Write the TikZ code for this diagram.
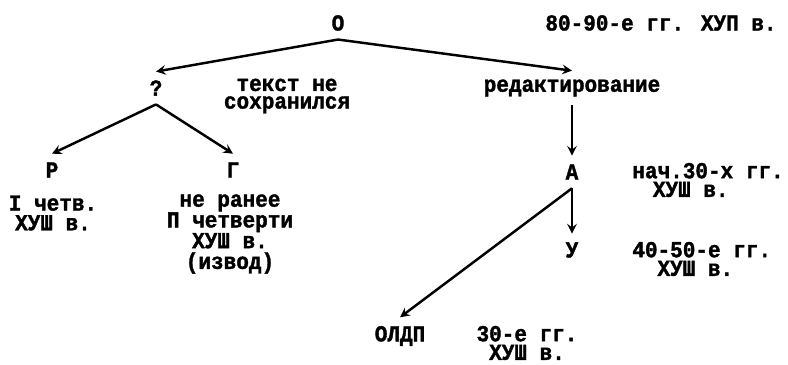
\documentclass[tikz,border=0pt]{standalone}
\usepackage{fontspec}
\setmainfont[FakeStretch=0.92, BoldFeatures={FakeBold=1.5}]{Liberation Mono}
\lineskiplimit=-100pt
\usetikzlibrary{arrows}
\tikzstyle{siglum} = [font=\bfseries\fontsize{13}{10.6}\selectfont, inner sep=0pt, outer sep=5pt]
\tikzstyle{date} = [font=\bfseries\fontsize{13}{10.6}\selectfont, inner sep=0pt]
\tikzstyle{arrow} = [line width=1.4pt, ->, >=stealth]

\begin{document}
\begin{tikzpicture}[x=0.02cm, y=-0.02cm]
		\useasboundingbox (0,0) rectangle (788,365);
		% sigla
		\node(O) [siglum] at (338,23) {О};
		\node(q) [siglum] at (156,88) {?};
		\node(red) [siglum] at (572,88) {редактирование};
		\node(P) [siglum] at (52,170) {Р};
		\node(G) [siglum] at (233,170) {Г};
		\node(A) [siglum] at (572,172) {А};
		\node(U) [siglum] at (572,250) {У};
		\node(OLDP) [siglum] at (400,336) {ОЛДП};
		% dates
		\node(dO) [date] at (661,23) {80-90-е гг. ХУП в.};
		\node(lost) [date, align=center, font=\bfseries\fontsize{13}{10}\selectfont] at (287,96) {текст не\\сохранился};
		\node(dP) [date, align=center, font=\bfseries\fontsize{13}{11.2}\selectfont] at (53,213) {I четв.\\ХУШ в.};
		\node(dG) [date, align=center, font=\bfseries\fontsize{13}{11.8}\selectfont] at (230,234) {не ранее\\П четверти\\ХУШ в.\\(извод)};
		\node(dA) [date, align=left, anchor=west] at (632,180) {нач.30-х гг.\\\hspace*{0.9em}ХУШ в.};
		\node(dU) [date, align=left, anchor=west] at (632,259) {40-50-е гг.\\\hspace*{1.1em}ХУШ в.};
		\node(dOLDP) [date, align=center] at (527,343) {30-е гг.\\ХУШ в.};
		% stemma
		\draw [arrow] (O.south) -- (q.north);
		\draw [arrow] (O.south) -- (red.north);
		\draw [arrow] (red.south) -- (A.north);
		\draw [arrow] (q.south) -- (P.north);
		\draw [arrow] (q.south) -- (G.north);
		\draw [arrow] (A.south) -- (U.north);
		\draw [arrow] (A.south) -- (OLDP.north);
	\end{tikzpicture}
\end{document}
